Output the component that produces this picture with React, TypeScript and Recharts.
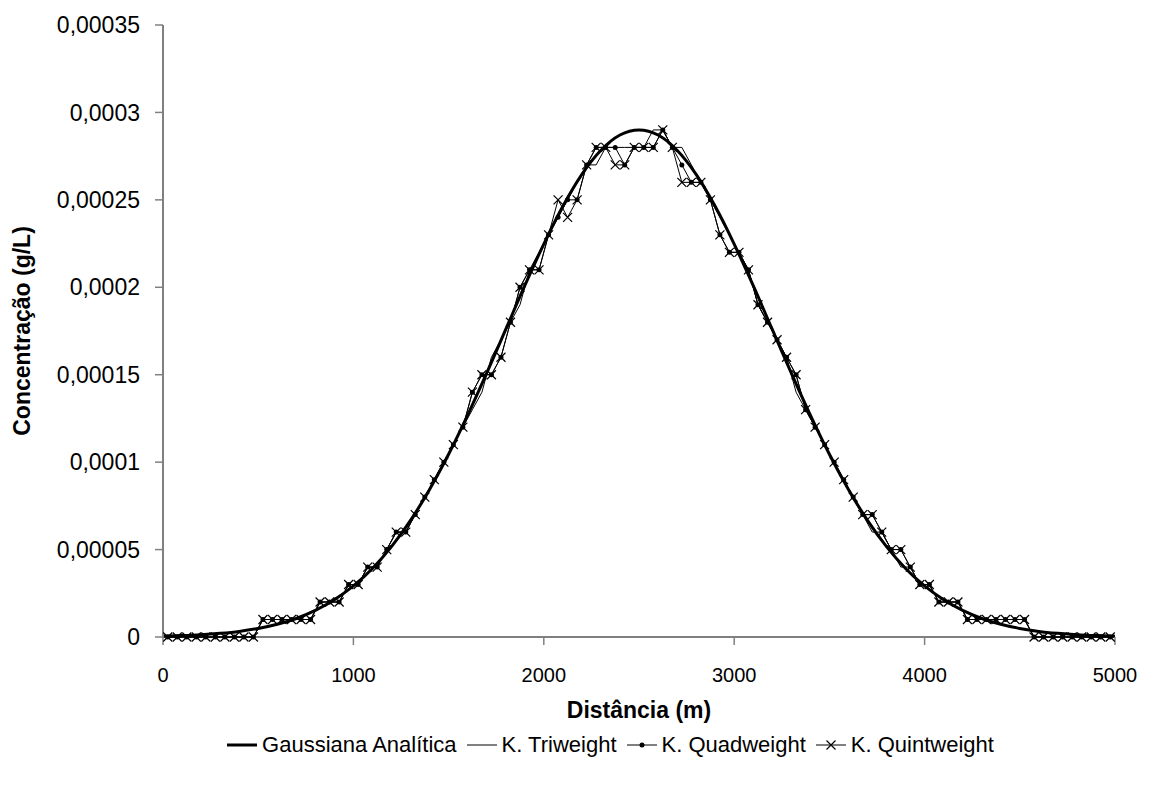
import React from 'react';
import { LineChart, Line, XAxis, YAxis, Legend, Label } from 'recharts';

// Analytical Gaussian (every 100 m)
const gaussX = [0, 100, 200, 300, 400, 500, 600, 700, 800, 900, 1000, 1100, 1200, 1300, 1400, 1500, 1600, 1700, 1800, 1900, 2000, 2100, 2200, 2300, 2400, 2500, 2600, 2700, 2800, 2900, 3000, 3100, 3200, 3300, 3400, 3500, 3600, 3700, 3800, 3900, 4000, 4100, 4200, 4300, 4400, 4500, 4600, 4700, 4800, 4900, 5000];
const gaussValues = [0.0000005, 0.0000008, 0.0000013, 0.0000021, 0.0000032, 0.0000049, 0.0000073, 0.0000106, 0.0000152, 0.0000213, 0.0000292, 0.0000392, 0.0000517, 0.0000667, 0.0000844, 0.0001045, 0.0001269, 0.0001509, 0.0001759, 0.0002009, 0.0002247, 0.0002463, 0.0002646, 0.0002784, 0.0002871, 0.00029, 0.0002871, 0.0002784, 0.0002646, 0.0002463, 0.0002247, 0.0002009, 0.0001759, 0.0001509, 0.0001269, 0.0001045, 0.0000844, 0.0000667, 0.0000517, 0.0000392, 0.0000292, 0.0000213, 0.0000152, 0.0000106, 0.0000073, 0.0000049, 0.0000032, 0.0000021, 0.0000013, 0.0000008, 0.0000005];

// Kernel estimates (every 50 m)
const kernelX = [25, 75, 125, 175, 225, 275, 325, 375, 425, 475, 525, 575, 625, 675, 725, 775, 825, 875, 925, 975, 1025, 1075, 1125, 1175, 1225, 1275, 1325, 1375, 1425, 1475, 1525, 1575, 1625, 1675, 1725, 1775, 1825, 1875, 1925, 1975, 2025, 2075, 2125, 2175, 2225, 2275, 2325, 2375, 2425, 2475, 2525, 2575, 2625, 2675, 2725, 2775, 2825, 2875, 2925, 2975, 3025, 3075, 3125, 3175, 3225, 3275, 3325, 3375, 3425, 3475, 3525, 3575, 3625, 3675, 3725, 3775, 3825, 3875, 3925, 3975, 4025, 4075, 4125, 4175, 4225, 4275, 4325, 4375, 4425, 4475, 4525, 4575, 4625, 4675, 4725, 4775, 4825, 4875, 4925, 4975];

const triweight = [0, 0, 0, 0, 0, 0, 0, 0, 0, 0, 0.00001, 0.00001, 0.00001, 0.00001, 0.00001, 0.00001, 0.00002, 0.00002, 0.00002, 0.00003, 0.00003, 0.00004, 0.00004, 0.00005, 0.00006, 0.00006, 0.00007, 0.00008, 0.00009, 0.0001, 0.00011, 0.00012, 0.00013, 0.00014, 0.00016, 0.00017, 0.00018, 0.00019, 0.00021, 0.00022, 0.00023, 0.00024, 0.00025, 0.00026, 0.00027, 0.00027, 0.00028, 0.00028, 0.00028, 0.00028, 0.00028, 0.00029, 0.00029, 0.00028, 0.00028, 0.00027, 0.00026, 0.00025, 0.00024, 0.00023, 0.00022, 0.00021, 0.00019, 0.00018, 0.00017, 0.00016, 0.00014, 0.00013, 0.00012, 0.00011, 0.0001, 0.00009, 0.00008, 0.00007, 0.00006, 0.00006, 0.00005, 0.00004, 0.00004, 0.00003, 0.00003, 0.00002, 0.00002, 0.00002, 0.00001, 0.00001, 0.00001, 0.00001, 0.00001, 0.00001, 0.00001, 0, 0, 0, 0, 0, 0, 0, 0, 0];

const quadweight = [0, 0, 0, 0, 0, 0, 0, 0, 0, 0, 0.00001, 0.00001, 0.00001, 0.00001, 0.00001, 0.00001, 0.00002, 0.00002, 0.00002, 0.00003, 0.00003, 0.00004, 0.00004, 0.00005, 0.00006, 0.00006, 0.00007, 0.00008, 0.00009, 0.0001, 0.00011, 0.00012, 0.00014, 0.00015, 0.00015, 0.00016, 0.00018, 0.0002, 0.00021, 0.00021, 0.00023, 0.00024, 0.00025, 0.00025, 0.00027, 0.00028, 0.00028, 0.00028, 0.00027, 0.00028, 0.00028, 0.00028, 0.00029, 0.00028, 0.00027, 0.00026, 0.00026, 0.00025, 0.00023, 0.00022, 0.00022, 0.00021, 0.00019, 0.00018, 0.00017, 0.00016, 0.00015, 0.00013, 0.00012, 0.00011, 0.0001, 0.00009, 0.00008, 0.00007, 0.00007, 0.00006, 0.00005, 0.00005, 0.00004, 0.00003, 0.00003, 0.00002, 0.00002, 0.00002, 0.00001, 0.00001, 0.00001, 0.00001, 0.00001, 0.00001, 0.00001, 0, 0, 0, 0, 0, 0, 0, 0, 0];

const quintweight = [0, 0, 0, 0, 0, 0, 0, 0, 0, 0, 0.00001, 0.00001, 0.00001, 0.00001, 0.00001, 0.00001, 0.00002, 0.00002, 0.00002, 0.00003, 0.00003, 0.00004, 0.00004, 0.00005, 0.00006, 0.00006, 0.00007, 0.00008, 0.00009, 0.0001, 0.00011, 0.00012, 0.00014, 0.00015, 0.00015, 0.00016, 0.00018, 0.0002, 0.00021, 0.00021, 0.00023, 0.00025, 0.00024, 0.00025, 0.00027, 0.00028, 0.00028, 0.00027, 0.00027, 0.00028, 0.00028, 0.00028, 0.00029, 0.00028, 0.00026, 0.00026, 0.00026, 0.00025, 0.00023, 0.00022, 0.00022, 0.00021, 0.00019, 0.00018, 0.00017, 0.00016, 0.00015, 0.00013, 0.00012, 0.00011, 0.0001, 0.00009, 0.00008, 0.00007, 0.00007, 0.00006, 0.00005, 0.00005, 0.00004, 0.00003, 0.00003, 0.00002, 0.00002, 0.00002, 0.00001, 0.00001, 0.00001, 0.00001, 0.00001, 0.00001, 0.00001, 0, 0, 0, 0, 0, 0, 0, 0, 0];

const xTicks = [0, 1000, 2000, 3000, 4000, 5000];
const yTicks = [0, 0.00005, 0.0001, 0.00015, 0.0002, 0.00025, 0.0003, 0.00035];
const yTickLabels = ['0', '0,00005', '0,0001', '0,00015', '0,0002', '0,00025', '0,0003', '0,00035'];

const seriesNames = ['Gaussiana Analítica', 'K. Triweight', 'K. Quadweight', 'K. Quintweight'];

const gaussData = gaussX.map((x, i) => ({ x, y: gaussValues[i] }));
const triData = kernelX.map((x, i) => ({ x, y: triweight[i] }));
const quadData = kernelX.map((x, i) => ({ x, y: quadweight[i] }));
const quintData = kernelX.map((x, i) => ({ x, y: quintweight[i] }));

const FONT = '"Liberation Sans", Arial, sans-serif';
const FS = 20;
const FS_LEG = 22;
const FS_TITLE = 23;
const FS_Y = 23;

const CrossDot = (props: any) => {
  const { cx, cy, key } = props;
  if (cx == null || cy == null) return <g key={key} />;
  const s = 4.5;
  return (
    <path
      key={key}
      d={`M${cx - s},${cy - s}L${cx + s},${cy + s}M${cx - s},${cy + s}L${cx + s},${cy - s}`}
      stroke="#000"
      strokeWidth={1.2}
      fill="none"
    />
  );
};

const RoundDot = (props: any) => {
  const { cx, cy, key } = props;
  if (cx == null || cy == null) return <g key={key} />;
  return <circle key={key} cx={cx} cy={cy} r={2.5} fill="#000" stroke="none" />;
};

const LegendContent = () => {
  const item = (i: number, icon: React.ReactNode) => (
    <div key={i} style={{ display: 'flex', alignItems: 'center', marginRight: 8 }}>
      <svg width={34} height={20} style={{ marginRight: 3 }}>{icon}</svg>
      <span style={{ fontFamily: FONT, fontSize: FS_LEG, color: '#000', whiteSpace: 'nowrap' }}>{seriesNames[i]}</span>
    </div>
  );
  return (
    <div style={{ display: 'flex', justifyContent: 'center', alignItems: 'center' }}>
      {item(0, <line x1={2} y1={10} x2={32} y2={10} stroke="#000" strokeWidth={3} />)}
      {item(1, <line x1={2} y1={10} x2={32} y2={10} stroke="#000" strokeWidth={1} />)}
      {item(2, <g><line x1={2} y1={10} x2={32} y2={10} stroke="#000" strokeWidth={1} /><circle cx={17} cy={10} r={2.5} fill="#000" /></g>)}
      {item(3, <g><line x1={2} y1={10} x2={32} y2={10} stroke="#000" strokeWidth={1} /><path d="M12.5,5.5L21.5,14.5M12.5,14.5L21.5,5.5" stroke="#000" strokeWidth={1.2} /></g>)}
    </div>
  );
};

export default function App() {
  return (
    <div style={{ width: 1145, height: 779, position: 'relative', background: '#fff' }}>
      <LineChart
        width={1145}
        height={779}
        margin={{ top: 17, right: 38, bottom: 64, left: 0 }}
      >
        <XAxis
          dataKey="x"
          type="number"
          domain={[0, 5000]}
          ticks={xTicks}
          allowDuplicatedCategory={false}
          tickSize={8}
          tickMargin={23}
          axisLine={{ stroke: '#000', strokeWidth: 1 }}
          tickLine={{ stroke: '#808080', strokeWidth: 1.5 }}
          tick={{ fill: '#000', fontSize: FS, fontFamily: FONT }}
          height={60}
        >
          <Label
            value="Distância (m)"
            position="bottom"
            offset={5}
            style={{ fontFamily: FONT, fontSize: FS_TITLE, fontWeight: 'bold', fill: '#000' }}
          />
        </XAxis>
        <YAxis
          type="number"
          domain={[0, 0.00035]}
          ticks={yTicks}
          width={155}
          tickSize={8}
          tickMargin={15}
          interval={0}
          tickFormatter={(v: number) => yTickLabels[yTicks.indexOf(v)] ?? String(v)}
          axisLine={{ stroke: '#808080', strokeWidth: 2 }}
          tickLine={{ stroke: '#808080', strokeWidth: 1.5 }}
          tick={{ fill: '#000', fontSize: FS_Y, fontFamily: FONT }}
        >
          <Label
            content={() => (
              <text
                x={14}
                y={323}
                transform="rotate(-90 14 323)"
                textAnchor="middle"
                dominantBaseline="central"
                style={{ fontFamily: FONT, fontSize: FS_TITLE, fontWeight: 'bold', fill: '#000' }}
              >
                Concentração (g/L)
              </text>
            )}
          />
        </YAxis>
        <Legend
          layout="vertical"
          align="center"
          verticalAlign="bottom"
          content={LegendContent}
          wrapperStyle={{ position: 'absolute', left: 33, top: 724, width: 1145 }}
        />
        <Line data={triData} dataKey="y" name={seriesNames[1]} type="linear" stroke="#000" strokeWidth={1} dot={false} isAnimationActive={false} />
        <Line data={quadData} dataKey="y" name={seriesNames[2]} type="linear" stroke="#000" strokeWidth={1} dot={RoundDot} activeDot={false} isAnimationActive={false} />
        <Line data={quintData} dataKey="y" name={seriesNames[3]} type="linear" stroke="#000" strokeWidth={1} dot={CrossDot} activeDot={false} isAnimationActive={false} />
        <Line data={gaussData} dataKey="y" name={seriesNames[0]} type="monotone" stroke="#000" strokeWidth={3} dot={false} activeDot={false} isAnimationActive={false} />
      </LineChart>
    </div>
  );
}
